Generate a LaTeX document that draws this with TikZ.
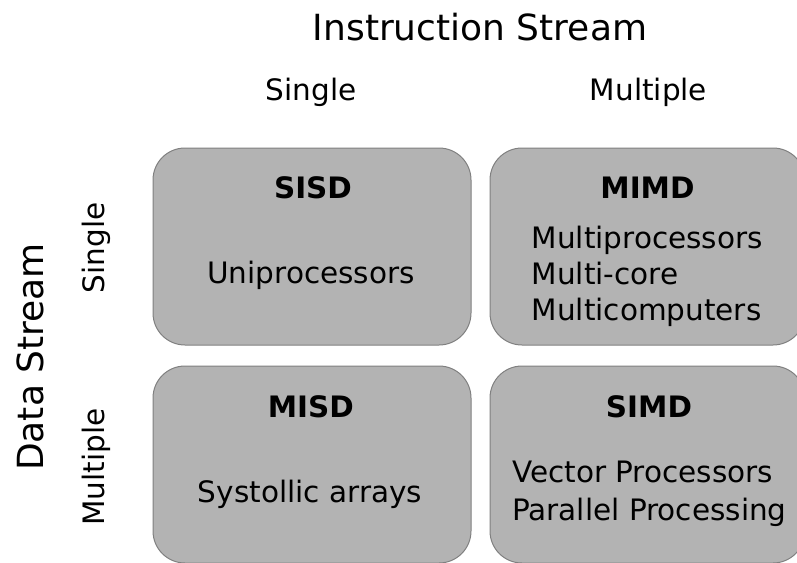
\documentclass[tikz,border=0pt]{standalone}
\usepackage{fontspec}
\setmainfont{DejaVu Sans}
\definecolor{cellgray}{RGB}{179,179,179}
\definecolor{celledge}{RGB}{128,128,128}
\tikzset{
  cell/.style={draw=celledge, fill=cellgray, line width=1pt, rounded corners=32pt, inner sep=0pt},
  big/.style={inner sep=0pt, font=\fontsize{36}{43}\selectfont},
  txt/.style={inner sep=0pt, font=\fontsize{29.5}{36}\selectfont},
  hd/.style={inner sep=0pt, font=\bfseries\fontsize{29.5}{36}\selectfont}
}

\begin{document}
\begin{tikzpicture}[x=1pt, y=-1pt]
            \clip (0,0) rectangle (797,562);
            % the four classes
            \node[cell, minimum width=318pt, minimum height=197pt] (sisd) at (312.0,246.5) {};
            \node[cell, minimum width=315pt, minimum height=197pt] (mimd) at (647.5,246.5) {};
            \node[cell, minimum width=318pt, minimum height=197pt] (misd) at (312.0,464.5) {};
            \node[cell, minimum width=315pt, minimum height=197pt] (simd) at (647.5,464.5) {};
            % axis labels
            \node[big, anchor=base]            (istream) at (480.0, 40.0) {Instruction Stream};
            \node[txt, anchor=base]            (isingle) at (311.0,100.5) {Single};
            \node[txt, anchor=base]            (imulti)  at (648.5,100.5) {Multiple};
            \node[big, anchor=base, rotate=90] (dstream) at ( 43.0,357.0) {Data Stream};
            \node[txt, anchor=base, rotate=90] (dsingle) at (104.0,248.0) {Single};
            \node[txt, anchor=base, rotate=90] (dmulti)  at (104.0,467.0) {Multiple};
            % box texts
            \node[hd,  anchor=base]      (sisdname) at (313.0,198.5) {SISD};
            \node[txt, anchor=base]      (sisdtxt)  at (311.0,283.5) {Uniprocessors};
            \node[hd,  anchor=base]      (mimdname) at (647.5,198.5) {MIMD};
            \node[txt, anchor=base west] (mimdtxta) at (531.5,248.0) {Multiprocessors};
            \node[txt, anchor=base west] (mimdtxtb) at (531.5,284.0) {Multi-core};
            \node[txt, anchor=base west] (mimdtxtc) at (531.5,320.0) {Multicomputers};
            \node[hd,  anchor=base]      (misdname) at (310.8,417.5) {MISD};
            \node[txt, anchor=base]      (misdtxt)  at (310.0,502.5) {Systollic arrays};
            \node[hd,  anchor=base]      (simdname) at (649.0,417.5) {SIMD};
            \node[txt, anchor=base west] (simdtxta) at (512.0,482.0) {Vector Processors};
            \node[txt, anchor=base west] (simdtxtb) at (512.0,520.0) {Parallel Processing};
        \end{tikzpicture}
\end{document}
